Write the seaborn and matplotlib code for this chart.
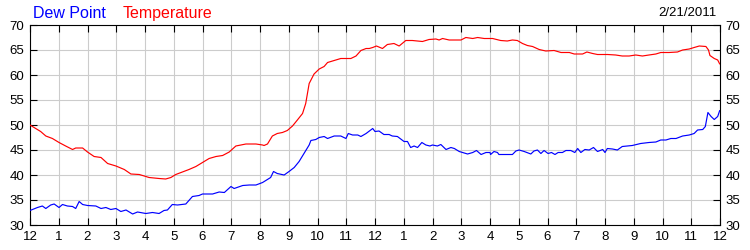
import matplotlib
matplotlib.use("Agg")
import matplotlib.pyplot as plt
import seaborn as sns
import pandas as pd

# ---- data (hours after midnight, degrees F) ----
temp_hours = [0.00, 0.37, 0.55, 0.78, 1.01, 1.24, 1.48, 1.59, 1.83, 2.00, 2.23, 2.47, 2.70, 2.99,
              3.28, 3.51, 3.80, 4.03, 4.14, 4.49, 4.72, 4.90, 5.07, 5.30, 5.53, 5.77, 6.00, 6.23,
              6.47, 6.70, 6.93, 7.16, 7.51, 7.86, 8.09, 8.14, 8.26, 8.43, 8.60, 8.78, 8.95, 9.13,
              9.30, 9.48, 9.59, 9.71, 9.88, 10.06, 10.23, 10.35, 10.58, 10.81, 11.16, 11.34, 11.51,
              11.69, 11.80, 11.92, 12.05, 12.26, 12.43, 12.66, 12.84, 13.07, 13.30, 13.65, 13.88,
              14.12, 14.23, 14.35, 14.58, 14.99, 15.16, 15.40, 15.57, 15.80, 16.09, 16.37, 16.60,
              16.78, 16.95, 17.13, 17.30, 17.48, 17.71, 17.94, 18.23, 18.47, 18.76, 18.93, 19.22,
              19.37, 19.57, 19.74, 20.09, 20.37, 20.60, 20.84, 21.07, 21.30, 21.53, 21.77, 21.94,
              22.23, 22.52, 22.70, 22.93, 23.10, 23.28, 23.51, 23.60, 23.65, 23.80, 23.92, 23.99]
temperature = [50.0, 48.7, 47.8, 47.3, 46.5, 45.8, 45.1, 45.4, 45.4, 44.6, 43.7, 43.5, 42.3, 41.8,
               41.1, 40.2, 40.1, 39.7, 39.5, 39.3, 39.2, 39.5, 40.1, 40.6, 41.1, 41.7, 42.5, 43.3,
               43.7, 43.9, 44.6, 45.8, 46.2, 46.2, 46.0, 45.9, 46.2, 47.8, 48.3, 48.5, 48.9, 49.8,
               51.0, 52.3, 54.3, 58.3, 60.2, 61.2, 61.7, 62.5, 62.9, 63.3, 63.3, 63.8, 64.9,
               65.3, 65.3, 65.5, 65.8, 65.3, 66.1, 66.3, 65.8, 66.9, 66.9, 66.7, 67.1,
               67.2, 67.0, 67.3, 67.0, 67.0, 67.5, 67.3, 67.5, 67.3, 67.3, 66.9, 66.8,
               67.0, 66.9, 66.3, 65.9, 65.7, 65.1, 64.8, 64.9, 64.5, 64.5, 64.2, 64.2,
               64.6, 64.3, 64.1, 64.1, 64.0, 63.8, 63.8, 64.0, 63.8, 64.0, 64.2, 64.5,
               64.5, 64.6, 65.0, 65.2, 65.5, 65.8, 65.7, 65.0, 63.9, 63.3, 63.0, 62.2]

dew_hours = [0.00, 0.26, 0.43, 0.55, 0.72, 0.84, 1.01, 1.13, 1.30, 1.48, 1.59, 1.71, 1.83, 2.00,
             2.29, 2.47, 2.64, 2.81, 2.99, 3.16, 3.34, 3.57, 3.74, 4.03, 4.26, 4.49, 4.66, 4.78,
             4.95, 5.13, 5.42, 5.65, 5.88, 6.00, 6.35, 6.58, 6.76, 6.99, 7.10, 7.40, 7.63, 7.86,
             8.09, 8.37, 8.47, 8.60, 8.84, 9.01, 9.19, 9.36, 9.53, 9.71, 9.77, 9.94, 10.06, 10.23,
             10.35, 10.58, 10.81, 10.99, 11.07, 11.22, 11.40, 11.51, 11.69, 11.92, 12.00, 12.14,
             12.31, 12.49, 12.60, 12.78, 13.01, 13.13, 13.24, 13.36, 13.48, 13.63, 13.77, 13.91,
             14.00, 14.17, 14.29, 14.47, 14.64, 14.76, 14.93, 15.05, 15.22, 15.40, 15.53, 15.69,
             15.86, 16.00, 16.02, 16.14, 16.26, 16.31, 16.55, 16.78, 16.90, 17.01, 17.19, 17.42,
             17.53, 17.65, 17.77, 17.88, 18.02, 18.14, 18.26, 18.37, 18.52, 18.64, 18.81, 18.95,
             19.05, 19.16, 19.30, 19.45, 19.60, 19.74, 19.92, 20.00, 20.08, 20.26, 20.43, 20.60,
             20.95, 21.24, 21.53, 21.77, 21.94, 22.12, 22.29, 22.47, 22.70, 22.93, 23.10, 23.22,
             23.40, 23.49, 23.58, 23.69, 23.80, 23.92, 23.99]
dew_point = [32.9, 33.5, 33.8, 33.3, 34.0, 34.2, 33.5, 34.1, 33.8, 33.7, 33.3, 34.7, 34.1, 33.9,
             33.8, 33.3, 33.5, 33.1, 33.3, 32.7, 33.0, 32.2, 32.6, 32.3, 32.5, 32.3, 32.9, 33.0,
             34.1, 34.0, 34.2, 35.7, 35.9, 36.2, 36.2, 36.6, 36.5, 37.7, 37.3, 37.9, 38.0, 38.0,
             38.5, 39.5, 40.7, 40.3, 40.0, 40.7, 41.5, 42.7, 44.3, 46.0, 46.9, 47.1, 47.5, 47.7,
             47.3, 47.8, 47.8, 47.3, 48.3, 48.0, 48.0, 47.7, 48.3, 49.3, 48.7, 48.8,
             48.1, 48.1, 47.8, 47.7, 46.7, 46.7, 45.5, 45.8, 45.5, 46.5, 46.0, 45.8,
             46.0, 45.8, 46.1, 45.1, 45.5, 45.3, 44.7, 44.5, 44.2, 44.5, 44.9, 44.1,
             44.5, 44.5, 44.1, 44.7, 44.5, 44.1, 44.1, 44.1, 44.8, 45.0, 44.7, 44.2,
             44.8, 45.0, 44.3, 44.9, 44.3, 44.5, 44.1, 44.5, 44.5, 44.9, 44.9, 44.5,
             45.3, 44.5, 45.1, 45.0, 45.5, 44.7, 45.1, 44.5, 45.3, 45.2, 45.0, 45.7,
             45.9, 46.3, 46.5, 46.6, 47.0, 47.0, 47.3, 47.3, 47.8, 48.0, 48.3, 49.0,
             49.1, 49.7, 52.5, 51.7, 51.1, 51.7, 52.9]

x_ticks = list(range(0, 25))
x_labels = ["12", "1", "2", "3", "4", "5", "6", "7", "8", "9", "10", "11",
            "12", "1", "2", "3", "4", "5", "6", "7", "8", "9", "10", "11", "12"]
y_ticks = [30, 35, 40, 45, 50, 55, 60, 65, 70]
date_label = "2/21/2011"

sns.set_theme(style="white")
plt.rcParams["font.family"] = ["Liberation Sans", "DejaVu Sans"]

fig = plt.figure(figsize=(7.5, 2.5), dpi=100)
ax = fig.add_axes([0.04, 0.10, 0.92, 0.80])

df_t = pd.DataFrame({"hour": temp_hours, "value": temperature})
df_d = pd.DataFrame({"hour": dew_hours, "value": dew_point})
sns.lineplot(data=df_t, x="hour", y="value", ax=ax, color="#ff0000", lw=0.85, zorder=3)
sns.lineplot(data=df_d, x="hour", y="value", ax=ax, color="#0000ff", lw=0.85, zorder=3)

ax.set_xlim(0, 24)
ax.set_ylim(30, 70)
ax.set_xticks(x_ticks)
ax.set_xticklabels(x_labels)
ax.set_yticks(y_ticks)
ax.set_yticklabels([str(v) for v in y_ticks])
ax.set_xlabel("")
ax.set_ylabel("")
ax.grid(True, color="#cccccc", lw=0.8, zorder=0)
ax.set_axisbelow(True)
for s in ax.spines.values():
    s.set_color("black")
    s.set_linewidth(0.8)
ax.tick_params(axis="both", which="both", direction="in", length=5, width=0.8, color="black",
               top=True, bottom=True, left=True, right=True, labelright=True,
               labelsize=9.5, labelcolor="black")
ax.tick_params(axis="x", pad=4)
ax.tick_params(axis="y", pad=4)

fig.text(33 / 750, 1 - 18 / 250, "Dew Point", color="#0000ff", fontsize=11.5, ha="left", va="baseline")
fig.text(123 / 750, 1 - 18 / 250, "Temperature", color="#ff0000", fontsize=11.5, ha="left", va="baseline")
fig.text(717 / 750, 1 - 16 / 250, date_label, color="black", fontsize=9.5, ha="right", va="baseline")

fig.savefig("out.png", dpi=100)
